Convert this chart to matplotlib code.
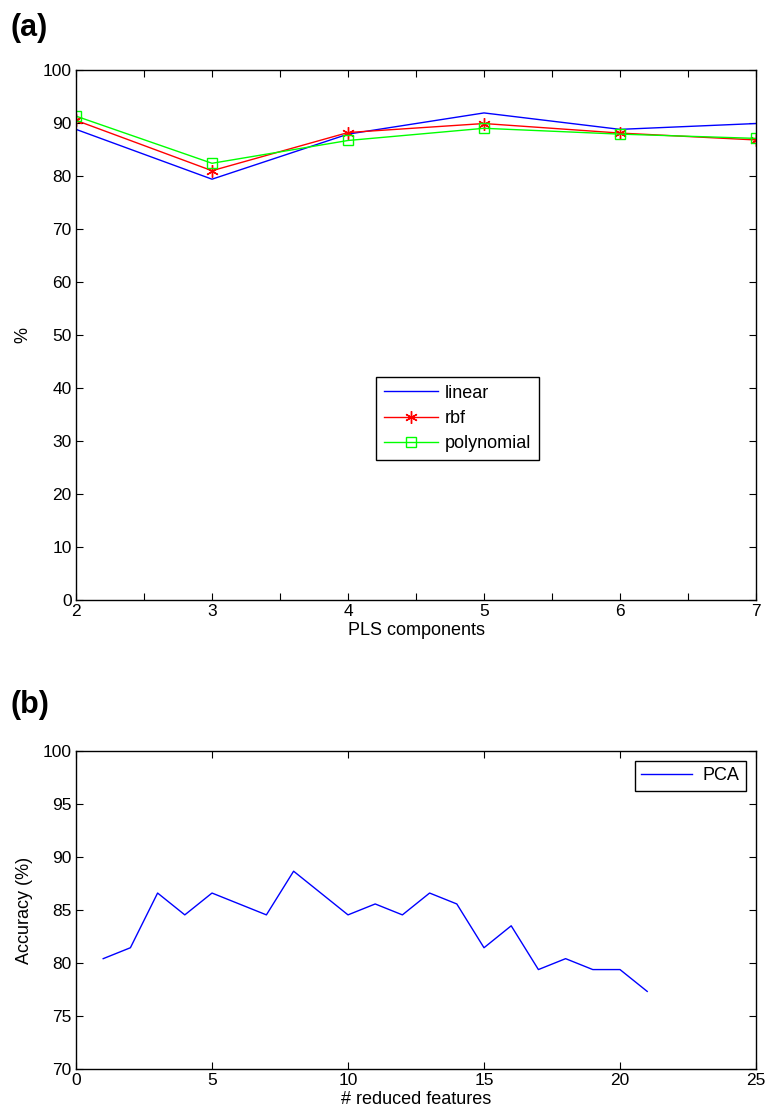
import numpy as np
import matplotlib
matplotlib.use("Agg")
import matplotlib.pyplot as plt

plt.rcParams['font.family'] = ['Liberation Sans', 'DejaVu Sans']
plt.rcParams['font.size'] = 13

# panel (a) data
pls_comp = [2, 3, 4, 5, 6, 7]
acc_linear = [88.8, 79.4, 87.9, 91.9, 88.8, 89.9]
acc_rbf = [90.5, 81.0, 88.2, 89.9, 88.1, 86.8]
acc_poly = [91.3, 82.4, 86.7, 89.0, 87.9, 87.1]

# panel (b) data
n_feat = list(range(1, 22))
acc_pca = [80.41, 81.44, 86.60, 84.54, 86.60, 85.57, 84.54, 88.66, 86.60, 84.54,
           85.57, 84.54, 86.60, 85.57, 81.44, 83.51, 79.38, 80.41, 79.38, 79.38, 77.32]

fig = plt.figure(figsize=(7.65, 11.17), dpi=100)

def style(ax):
    ax.tick_params(direction='in', length=5, width=0.8, top=True, right=True,
                   labelsize=12.5, pad=3)
    for s in ax.spines.values():
        s.set_linewidth(1.0)

# ---- (a)
ax1 = fig.add_axes([76/765, 517/1117, 680/765, 530/1117])
ax1.plot(pls_comp, acc_linear, color=(0, 0, 1), lw=1, label='linear')
ax1.plot(pls_comp, acc_rbf, color=(1, 0, 0), lw=1, marker=(6, 2, 0), ms=9,
         mew=1, label='rbf')
ax1.plot(pls_comp, acc_poly, color=(0, 1, 0), lw=1, marker='s', ms=7,
         mfc='none', mew=1, label='polynomial')
ax1.set_xlim(2, 7)
ax1.set_ylim(0, 100)
xt = np.arange(2, 7.01, 0.5)
ax1.set_xticks(xt)
ax1.set_xticklabels([str(int(v)) if v == int(v) else '' for v in xt])
ax1.set_yticks(np.arange(0, 101, 10))
ax1.set_xlabel('PLS components', labelpad=2)
ax1.set_ylabel('%', labelpad=8)
style(ax1)
leg = ax1.legend(loc='lower left', bbox_to_anchor=(0.441, 0.264), borderaxespad=0,
                 fancybox=False, framealpha=1, edgecolor='black', handlelength=3.0,
                 borderpad=0.45, labelspacing=0.45, handletextpad=0.35, fontsize=13)
leg.get_frame().set_linewidth(1.0)
fig.text(11/765, 1 - 28/1117, '(a)', fontsize=22, fontweight='bold', va='center')

# ---- (b)
ax2 = fig.add_axes([76/765, 48/1117, 680/765, 318/1117])
ax2.plot(n_feat, acc_pca, color=(0, 0, 1), lw=1, label='PCA')
ax2.set_xlim(0, 25)
ax2.set_ylim(70, 100)
ax2.set_xticks(np.arange(0, 26, 5))
ax2.set_yticks(np.arange(70, 101, 5))
ax2.set_xlabel('# reduced features', labelpad=2)
ax2.set_ylabel('Accuracy (%)', labelpad=7)
style(ax2)
leg2 = ax2.legend(loc='upper right', borderaxespad=0.55, fancybox=False, framealpha=1,
                  edgecolor='black', handlelength=2.8, borderpad=0.35,
                  handletextpad=0.6, fontsize=13)
leg2.get_frame().set_linewidth(1.0)
fig.text(11/765, 1 - 705/1117, '(b)', fontsize=22, fontweight='bold', va='center')

fig.savefig('out.png', dpi=100)
